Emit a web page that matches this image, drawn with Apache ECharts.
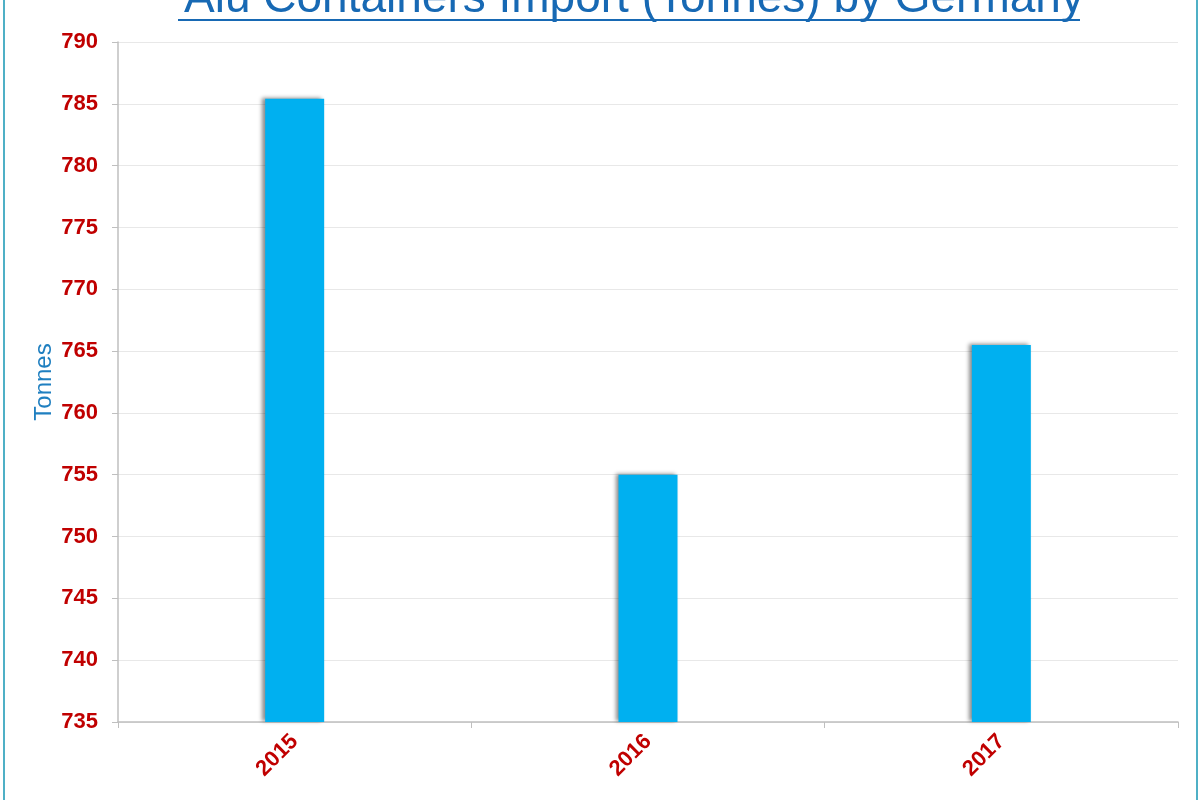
<!DOCTYPE html>
<html>
<head>
<meta charset="utf-8">
<title>Alu Containers Import (Tonnes) by Germany</title>
<script src="https://cdn.jsdelivr.net/npm/echarts@6/dist/echarts.min.js"></script>
<style>
  html, body { margin: 0; padding: 0; background: #fff; }
  #frame { position: absolute; left: 3px; top: 0; width: 1191px; height: 800px;
           border-left: 2px solid #4fb0c6; border-right: 2px solid #4fb0c6; }
  #chart { position: absolute; left: 0; top: 0; width: 1200px; height: 800px; }
</style>
</head>
<body>
<div id="frame"></div>
<div id="chart"></div>
<script>
const years = ['2015', '2016', '2017'];
const tonnes = [785.4, 755.0, 765.5];
const yMin = 735;
const yMax = 790;
const yStep = 5;

const titleColor = '#1769b4';
const red = '#c00000';
const font = 'Liberation Sans, Arial, sans-serif';

const chart = echarts.init(document.getElementById('chart'));

const option = {
  animation: false,
  title: {
    text: 'Alu Containers Import (Tonnes) by Germany',
    left: 179,
    top: -29,
    textStyle: {
      fontFamily: font,
      fontSize: 46,
      fontWeight: 'normal',
      color: titleColor
    }
  },
  // underline under the title
  graphic: [
    {
      type: 'rect',
      left: 178,
      top: 19,
      shape: { width: 902, height: 2 },
      style: { fill: titleColor }
    }
  ],
  grid: {
    left: 118,
    right: 22,
    top: 42,
    bottom: 78
  },
  xAxis: {
    type: 'category',
    data: years,
    boundaryGap: true,
    axisLine: { lineStyle: { color: '#bfbfbf', width: 1.5 } },
    axisTick: { show: true, length: 6, lineStyle: { color: '#bfbfbf' } },
    axisLabel: {
      rotate: 45,
      margin: 16,
      color: red,
      fontWeight: 'bold',
      fontSize: 22,
      fontFamily: font
    }
  },
  yAxis: {
    type: 'value',
    min: yMin,
    max: yMax,
    interval: yStep,
    name: 'Tonnes',
    nameLocation: 'middle',
    nameGap: 62,
    nameMoveOverlap: false,
    nameRotate: 90,
    nameTextStyle: {
      color: '#1f7fc0',
      fontSize: 24,
      fontFamily: font
    },
    axisLine: { show: true, lineStyle: { color: '#bfbfbf', width: 1.5 } },
    axisTick: { show: true, length: 6, lineStyle: { color: '#bfbfbf' } },
    axisLabel: {
      margin: 20,
      color: red,
      fontWeight: 'bold',
      fontSize: 22,
      fontFamily: font
    },
    splitLine: { lineStyle: { color: '#e8e8e8' } }
  },
  series: [
    {
      type: 'bar',
      data: tonnes,
      barWidth: 59,
      itemStyle: {
        color: '#00b0f0',
        shadowColor: 'rgba(0,0,0,0.45)',
        shadowBlur: 4,
        shadowOffsetX: -3,
        shadowOffsetY: -1
      }
    }
  ]
};

chart.setOption(option);
window.addEventListener('resize', () => chart.resize());
</script>
</body>
</html>
